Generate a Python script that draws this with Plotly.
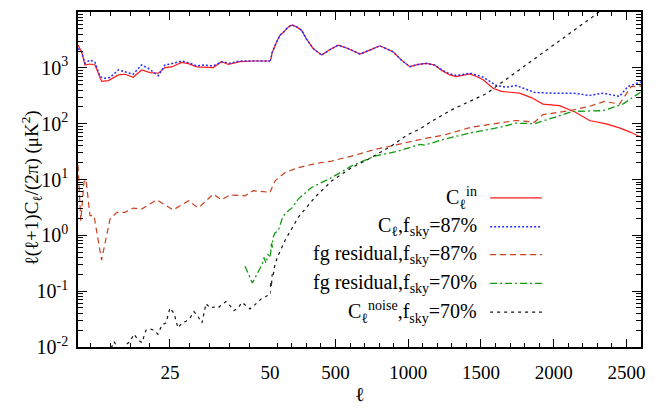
import plotly.graph_objects as go

# ---------------- data ----------------
# input CMB spectrum C_l^in
cin_l = [2, 2.9, 3.75, 5, 6.25, 7.9, 9.6, 12.1, 13.75, 15.8, 17.9, 20, 22.1, 23.75, 25.4, 27.9,
         29.6, 31.7, 35.8, 37.9, 39.6, 42.5, 45.8, 50,
         58, 64, 84, 96, 119, 141, 170, 190, 205, 233, 267, 300, 347, 405, 460, 519, 590, 668,
         740, 805, 896, 950, 1011, 1070, 1125, 1182, 1230, 1285, 1331, 1423, 1470, 1515, 1583,
         1640, 1700, 1766, 1850, 1926, 2040, 2150, 2246, 2361, 2452, 2530, 2600]
cin_v = [2550, 1940, 1125, 1170, 1125, 570, 590, 746, 767, 678, 917, 822, 800, 1010, 1038, 1254,
         1190, 1038, 1010, 1290, 1150, 1290, 1325, 1325,
         1500, 1850, 2550, 2930, 3850, 4300, 5200, 5700, 5800, 5410, 4720, 3300, 2220, 1690, 2100, 2550, 2200, 1770,
         2100, 2480, 1940, 1400, 1050, 1150, 1200, 1125, 900, 746, 697, 780, 700, 610, 431,
         380, 365, 352, 290, 224, 210, 160, 114, 99, 84, 70, 57]

# recovered C_l, f_sky = 87%
c87_l = [2, 2.9, 3.75, 5, 6.25, 7.5, 8.75, 10, 12.1, 13.75, 15.8, 17.9, 19.6, 21.25, 22.1, 23.75,
         25, 27.9, 30, 31.7, 33.3, 35.8, 37.9, 40, 42.5, 50,
         58, 64, 84, 96, 119, 141, 170, 190, 205, 233, 267, 300, 347, 405, 460, 519, 590, 668,
         740, 805, 896, 950, 1011, 1070, 1125, 1182, 1230, 1285, 1331, 1423, 1470, 1515, 1583,
         1606, 1675, 1743, 1869, 2000, 2132, 2246, 2338, 2452, 2509, 2578, 2600]
c87_v = [2220, 1940, 1200, 1380, 1254, 697, 650, 673, 917, 835, 767, 1125, 977, 800, 726, 1125,
         1170, 1325, 1210, 1080, 1125, 1080, 1290, 1210, 1325, 1325,
         1500, 1850, 2550, 2930, 3850, 4300, 5200, 5700, 5800, 5410, 4720, 3300, 2220, 1690, 2100, 2550, 2200, 1770,
         2100, 2480, 1940, 1400, 1050, 1150, 1200, 1125, 920, 780, 730, 800, 740, 680, 525,
         482, 450, 482, 362, 350, 352, 320, 352, 308, 462, 531, 560]

# foreground residual, f_sky = 87%
fg87_l = [2, 2.7, 3.5, 4, 5, 6, 7.9, 10, 11.7, 13.75, 15.8, 17.9, 21.7, 25.8, 29.6, 32.1, 35.8,
          37.9, 40, 43.75, 45.8, 50,
          84, 153, 244, 359, 473, 611, 771, 931, 1080, 1114, 1239, 1308, 1423, 1500, 1606, 1743,
          1869, 1926, 2109, 2246, 2349, 2452, 2532, 2600]
fg87_v = [18, 1.83, 9, 10, 2.25, 2.25, 0.36, 1.96, 2.58, 2.58, 3.08, 2.95, 4.33, 2.85, 4.16, 3.08, 5.46,
          4.33, 5.3, 5.1, 6.3, 5.9,
          9.4, 13.3, 16.3, 19.2, 21.4, 26.3, 34.6, 42.5, 52, 54.3, 62, 70, 85, 92, 100, 114,
          107, 145, 171, 204, 250, 224, 462, 470]

# foreground residual, f_sky = 70%
fg70_l = [43.75, 45.6, 48, 48.5, 49, 49.5, 50,
          55, 60, 65, 70, 84, 107, 139, 176, 201, 244, 336, 473, 611, 771, 931, 1080, 1114, 1239,
          1423, 1629, 1743, 1869, 1995, 2132, 2338, 2475, 2600]
fg70_v = [0.28, 0.14, 0.3, 0.4, 0.32, 0.45, 0.42,
          0.5, 0.75, 0.6, 0.9, 1.1, 1.22, 2.2, 2.76, 3.1, 4.46, 7.2, 10.8, 17.5, 26.3, 32.3, 42.5, 41.3, 52,
          68, 86, 102, 100, 126, 166, 171, 224, 370]

# noise spectrum, f_sky = 70%
noise_l = [4, 5, 6, 7, 8, 9, 10, 11, 12, 13, 14, 15, 16, 17, 18, 19, 20, 21, 22, 23, 24, 25, 26,
           27, 28, 29, 30, 31, 32, 33, 34, 35, 36, 37, 38, 39, 40, 41, 42, 43, 44, 45, 46, 47,
           48, 49, 50,
           55, 60, 65, 70, 84, 100, 153, 244, 359, 473, 611, 725, 885, 999, 1080, 1160, 1308,
           1537, 1697, 1834, 2075, 2178, 2294, 2400]
noise_v = [0.007, 0.0085, 0.0075, 0.0095, 0.0092, 0.008, 0.0085, 0.0125, 0.0095, 0.0085, 0.011,
           0.0125, 0.017, 0.0135, 0.012, 0.02, 0.021, 0.02, 0.017, 0.025, 0.027, 0.05, 0.04,
           0.022, 0.027, 0.029, 0.033, 0.043, 0.035, 0.027, 0.06, 0.05, 0.052, 0.05, 0.058,
           0.065, 0.055, 0.045, 0.05, 0.063, 0.055, 0.048, 0.055, 0.065, 0.075, 0.08, 0.09,
           0.15, 0.12, 0.2, 0.18, 0.3, 0.4, 0.81, 2.1, 4.8, 9.4, 16.3, 23, 40, 64, 80, 110, 182,
           345, 690, 1290, 3550, 5600, 9200, 16000]

# axis ticks
x_left_ticks = [25]
x_left_minor = [5, 10, 15, 20, 30, 35, 40, 45]
x_right_ticks = [50, 500, 1000, 1500, 2000, 2500]
x_right_minor = [v for v in range(100, 2600, 100) if v % 500 != 0]
y_ticks = [1e-2, 1e-1, 1e0, 1e1, 1e2, 1e3, 1e4]
y_ticktext = ["10<sup>-2</sup>", "10<sup>-1</sup>", "10<sup>0</sup>", "10<sup>1</sup>",
              "10<sup>2</sup>", "10<sup>3</sup>", "10<sup>4</sup>"]
y_minor = [m * 10 ** e for e in range(-2, 4) for m in range(2, 10)]

L_SPLIT = 50

series = [
    ("C<sub>ℓ</sub><sup>in</sup>", cin_l, cin_v, "#ff1a1a", "solid", 1.2),
    ("C<sub>ℓ</sub>,f<sub>sky</sub>=87%", c87_l, c87_v, "#2a2aff", "2px,2px", 1.5),
    ("fg residual,f<sub>sky</sub>=87%", fg87_l, fg87_v, "#c8401e", "6px,4px", 1.2),
    ("fg residual,f<sub>sky</sub>=70%", fg70_l, fg70_v, "#109a10", "7px,3px,2px,3px", 1.3),
    ("C<sub>ℓ</sub><sup>noise</sup>,f<sub>sky</sub>=70%", noise_l, noise_v, "#111111", "3px,4px", 1.2),
]

FONT = "Liberation Serif, Times New Roman, serif"

fig = go.Figure()
for name, ls, vs, col, dash, w in series:
    left = [(l, v) for l, v in zip(ls, vs) if l <= L_SPLIT]
    right = [(l, v) for l, v in zip(ls, vs) if l >= L_SPLIT]
    if left:
        fig.add_trace(go.Scatter(x=[p[0] for p in left], y=[p[1] for p in left], mode="lines",
                                 line=dict(color=col, dash=dash, width=w), xaxis="x", yaxis="y",
                                 showlegend=False, hoverinfo="skip"))
    if right:
        fig.add_trace(go.Scatter(x=[p[0] for p in right], y=[p[1] for p in right], mode="lines",
                                 line=dict(color=col, dash=dash, width=w), xaxis="x2", yaxis="y2",
                                 showlegend=False, hoverinfo="skip"))

SPLIT_FRAC = 0.341
axis_common = dict(showline=True, linecolor="black", linewidth=1.5, ticks="inside",
                   tickcolor="black", showgrid=False, zeroline=False)
xfont = dict(family=FONT, size=19, color="black")
yfont = dict(family=FONT, size=20, color="black")

fig.update_layout(
    width=663, height=412,
    margin=dict(l=78, r=22, t=10, b=65),
    plot_bgcolor="white", paper_bgcolor="white",
    font=dict(family=FONT, size=18, color="black"),
    xaxis=dict(domain=[0, SPLIT_FRAC], range=[2, L_SPLIT], anchor="y", mirror="ticks",
               tickmode="array", tickvals=x_left_ticks, ticktext=[str(v) for v in x_left_ticks],
               ticklen=8, tickwidth=1, ticklabelstandoff=7, tickfont=xfont,
               minor=dict(tickmode="array", tickvals=x_left_minor, ticks="inside", ticklen=4,
                          tickcolor="black", showgrid=False),
               **axis_common),
    xaxis2=dict(domain=[SPLIT_FRAC, 1], range=[L_SPLIT, 2600], anchor="y2", mirror="ticks",
                tickmode="array", tickvals=x_right_ticks, ticktext=[str(v) for v in x_right_ticks],
                ticklen=8, tickwidth=1, ticklabelstandoff=7, tickfont=xfont,
                minor=dict(tickmode="array", tickvals=x_right_minor, ticks="inside", ticklen=4,
                           tickcolor="black", showgrid=False),
                **axis_common),
    yaxis=dict(type="log", range=[-2, 4], anchor="x", domain=[0, 1],
               tickmode="array", tickvals=y_ticks, ticktext=y_ticktext,
               ticklen=9, tickwidth=1, ticklabelstandoff=4, tickfont=yfont,
               minor=dict(tickmode="array", tickvals=y_minor, ticks="inside", ticklen=5,
                          tickcolor="black", showgrid=False),
               **axis_common),
    yaxis2=dict(type="log", range=[-2, 4], anchor="x2", domain=[0, 1], side="right",
                showticklabels=False, tickmode="array", tickvals=y_ticks,
                ticklen=9, tickwidth=1,
                minor=dict(tickmode="array", tickvals=y_minor, ticks="inside", ticklen=5,
                           tickcolor="black", showgrid=False),
                **axis_common),
)

# axis titles
fig.add_annotation(text="ℓ", xref="paper", yref="paper", x=0.5, y=-0.14, showarrow=False,
                   font=dict(family=FONT, size=20, color="black"), yanchor="middle")
fig.add_annotation(text="ℓ(ℓ+1)C<sub>ℓ</sub>/(2π) (μK<sup>2</sup>)", xref="paper", yref="paper",
                   x=-0.11, y=0.475, textangle=-90, showarrow=False,
                   font=dict(family=FONT, size=19, color="black"))

# key (text right-aligned, line sample to the right, as in the reference)
key_rows = [0.445, 0.359, 0.276, 0.190, 0.104]
for (name, ls, vs, col, dash, w), yk in zip(series, key_rows):
    fig.add_annotation(text=name, xref="paper", yref="paper", x=0.712, y=yk, xanchor="right",
                       yanchor="middle", showarrow=False,
                       font=dict(family=FONT, size=20, color="black"))
    fig.add_shape(type="line", xref="paper", yref="paper", x0=0.732, x1=0.824, y0=yk, y1=yk,
                  line=dict(color=col, dash=dash, width=w))

fig.write_html("out.html")
